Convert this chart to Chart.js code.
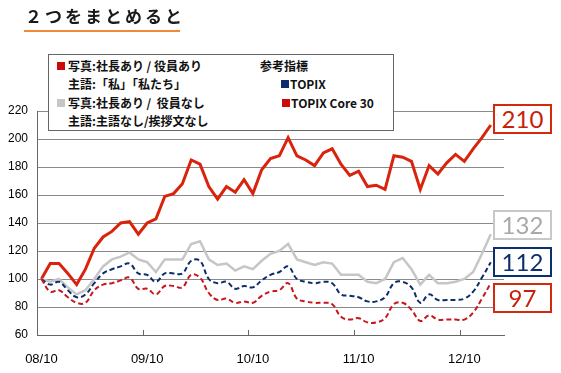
<!DOCTYPE html>
<html>
<head>
<meta charset="utf-8">
<script src="https://cdn.jsdelivr.net/npm/chart.js@4"></script>
<style>
  body { margin: 0; background: #fff; }
  #wrap { position: relative; width: 561px; height: 373px; overflow: hidden; }
  #wrap canvas { position: absolute; left: 0; top: 0; }
  #title { position: absolute; left: 25px; top: 3px; font: bold 17px "Noto Sans CJK JP"; letter-spacing: 3px; color: #1a1a1a; white-space: nowrap; }
  #rule { position: absolute; left: 24px; top: 30px; width: 156px; height: 2px; background: #ee8a3a; }
  #legend { position: absolute; left: 48px; top: 54px; width: 344px; height: 75px; border: 1px solid #666; background: #fff;
            font: bold 12px "Noto Sans CJK JP"; color: #111; }
  #legend span { position: absolute; line-height: 16px; white-space: nowrap; }
  #legend i { position: absolute; width: 8px; height: 8px; }
  .val { position: absolute; left: 493px; width: 55px; height: 26px; border: 2.5px solid; background: #fff;
         font: 24px Lato; line-height: 26px; text-align: center; }
</style>
</head>
<body>
<div id="wrap">
  <canvas id="chart" width="561" height="373"></canvas>
  <div id="title">２つをまとめると</div>
  <div id="rule"></div>
  <div id="legend">
    <i style="left:8px;top:7px;background:#cc0a0a"></i>
    <span style="left:19px;top:3px">写真:社長あり / 役員あり</span>
    <span style="left:19px;top:21px">主語:「私」「私たち」</span>
    <i style="left:8px;top:44px;background:#c6c6c6"></i>
    <span style="left:19px;top:40px">写真:社長あり /&nbsp; 役員なし</span>
    <span style="left:19px;top:58px">主語:主語なし/挨拶文なし</span>
    <span style="left:211px;top:3px">参考指標</span>
    <i style="left:232px;top:25px;background:#0c2c6c"></i>
    <span style="left:241px;top:21px">TOPIX</span>
    <i style="left:233px;top:44px;background:#cc0a0a"></i>
    <span style="left:242px;top:40px">TOPIX Core 30</span>
  </div>
  <div class="val" id="v0" style="top:104px;border-color:#d42a0b;color:#c8200a"></div>
  <div class="val" id="v1" style="top:210px;border-color:#c8c8c8;color:#a8a8a8"></div>
  <div class="val" id="v2" style="top:247px;border-color:#0c2f6e;color:#0c2f6e"></div>
  <div class="val" id="v3" style="top:283px;border-color:#d42a0b;color:#c8200a"></div>
</div>
<script>
// monthly, 08/10 .. 13/01 (plus one empty slot at the end of the axis)
const tickLabels = ["08/10", "09/10", "10/10", "11/10", "12/10"];

const presidentAndOfficers = [100, 111, 111, 104, 96, 107, 122, 130, 134, 140, 141, 132, 140, 143, 159, 161, 168, 185, 182, 166,
  157, 166, 162, 171, 161, 178, 186, 188, 201, 188, 185, 181, 190, 193, 182, 174, 177, 166, 167, 164,
  188, 187, 184, 164, 181, 175, 183, 189, 184, 193, 201, 210];
const presidentNoOfficers = [100, 98, 100, 94, 89, 92, 100, 109, 114, 116, 119, 114, 112, 105, 114, 114, 114, 125, 127, 114,
  110, 111, 106, 109, 107, 113, 118, 120, 125, 114, 112, 110, 112, 111, 103, 103, 103, 98, 97, 100,
  112, 115, 107, 96, 103, 97, 97, 98, 100, 105, 118, 132];
const topix = [100, 96, 98, 92, 87, 89, 97, 104, 107, 109, 111, 104, 103, 98, 104, 104, 104, 113, 113, 100,
  97, 98, 93, 95, 94, 99, 103, 105, 109, 100, 98, 97, 98, 97, 89, 88, 87, 84, 84, 87,
  97, 98, 94, 83, 89, 85, 85, 85, 86, 91, 101, 112];
const topixCore30 = [100, 91, 92, 87, 83, 83, 92, 96, 97, 99, 101, 93, 93, 89, 95, 95, 94, 103, 101, 90,
  85, 86, 83, 84, 83, 88, 91, 92, 97, 86, 84, 83, 83, 82, 73, 71, 72, 69, 69, 72,
  82, 83, 78, 70, 74, 71, 71, 71, 71, 76, 86, 97];

const months = [];
for (let i = 0; i < 53; i++) {
  const m = (9 + i) % 12 + 1;
  const y = 8 + Math.floor((9 + i) / 12);
  months.push(String(y).padStart(2, "0") + "/" + String(m).padStart(2, "0"));
}

[presidentAndOfficers, presidentNoOfficers, topix, topixCore30].forEach(function (s, k) {
  document.getElementById("v" + k).textContent = s[s.length - 1];
});

// small tick marks pointing up from the x axis, every 12 months
const innerTicks = {
  id: "innerTicks",
  afterDatasetsDraw(chart) {
    const x = chart.scales.x, ctx = chart.ctx;
    const half = (x.getPixelForValue(1) - x.getPixelForValue(0)) / 2;
    ctx.save();
    ctx.strokeStyle = "#666";
    ctx.lineWidth = 1;
    for (let i = 12; i < months.length; i += 12) {
      const px = Math.round(x.getPixelForValue(i) - half) + 0.5;
      ctx.beginPath();
      ctx.moveTo(px, x.top - 5);
      ctx.lineTo(px, x.top);
      ctx.stroke();
    }
    ctx.restore();
  }
};

new Chart(document.getElementById("chart"), {
  type: "line",
  data: {
    labels: months,
    datasets: [
      { data: topixCore30, borderColor: "#c8161d", borderWidth: 2, borderDash: [5, 3], tension: 0.4 },
      { data: topix, borderColor: "#0c2c6c", borderWidth: 2, borderDash: [5, 3], tension: 0.4 },
      { data: presidentNoOfficers, borderColor: "#c6c6c6", borderWidth: 2.5, tension: 0 },
      { data: presidentAndOfficers, borderColor: "#d9230c", borderWidth: 3, tension: 0 }
    ]
  },
  options: {
    responsive: false,
    animation: false,
    layout: { padding: { top: 111, right: 57, bottom: 0, left: 0 } },
    elements: { point: { radius: 0 } },
    plugins: { legend: { display: false }, tooltip: { enabled: false } },
    scales: {
      x: {
        offset: true,
        grid: { display: false },
        border: { display: true, color: "#666", width: 1 },
        ticks: {
          autoSkip: false, maxRotation: 0, padding: 9, color: "#000",
          font: { family: "Liberation Sans", size: 13 },
          callback: function (v, i) { return i % 12 === 0 ? tickLabels[i / 12] : null; }
        },
        afterFit: function (s) { s.height = 38; }
      },
      y: {
        min: 60, max: 220,
        grid: { color: "#8a8a8a", drawTicks: false },
        border: { display: true, color: "#666", width: 1 },
        ticks: { stepSize: 20, padding: 9, color: "#000", font: { family: "Liberation Sans", size: 12 } },
        afterFit: function (s) { s.width = 37; }
      }
    }
  },
  plugins: [innerTicks]
});
</script>
</body>
</html>
